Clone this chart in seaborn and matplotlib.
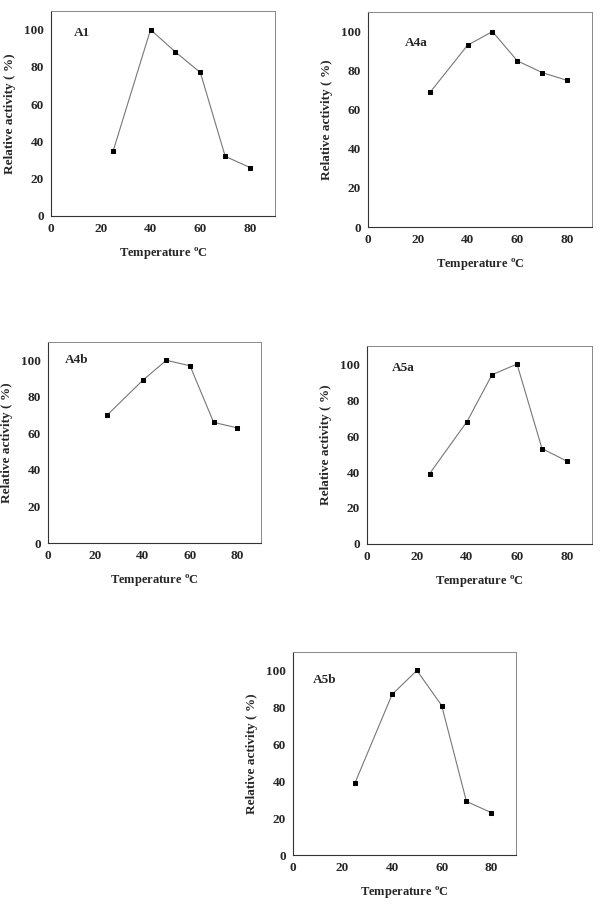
import numpy as np
import pandas as pd
import matplotlib
matplotlib.use("Agg")
import matplotlib.pyplot as plt
import seaborn as sns

temps = [25, 40, 50, 60, 70, 80]
a1 = [35, 100, 88, 77, 32, 26]
a4a = [69, 93, 100, 85, 79, 75]
a4b = [70, 89, 100, 97, 66, 63]
a5a = [39, 68, 94, 100, 53, 46]
a5b = [39, 87, 100, 81, 29, 23]
panel_names = ["A1", "A4a", "A4b", "A5a", "A5b"]
x_ticks = [0, 20, 40, 60, 80]
y_ticks = [0, 20, 40, 60, 80, 100]

sns.set_style("white")
plt.rcParams['font.family'] = ['Liberation Serif', 'DejaVu Serif']
plt.rcParams['font.weight'] = 'bold'

fig = plt.figure(figsize=(6, 9.05), dpi=100)

# axes boxes in pixels: left, top, right, bottom
boxes = [(51, 11, 275, 216), (368, 12, 592, 227), (48, 342, 261, 543),
         (367, 346, 592, 544), (293, 652, 516, 855)]
label_pos = [(9, 98), (15, 94), (7, 100), (10, 98), (8, 95)]
series = [a1, a4a, a4b, a5a, a5b]

for name, vals, (l, t, r, b), (lx, ly) in zip(panel_names, series, boxes, label_pos):
    ax = fig.add_axes([l / 600, 1 - b / 905, (r - l) / 600, (b - t) / 905])
    df = pd.DataFrame({'Temperature': temps, 'Activity': vals})
    sns.lineplot(data=df, x='Temperature', y='Activity', ax=ax, color='#777777',
                 linewidth=0.8, marker='s', markersize=3.3,
                 markerfacecolor='black', markeredgecolor='black')
    ax.set_xlim(0, 90)
    ax.set_ylim(0, 110)
    ax.set_xticks(x_ticks)
    ax.set_yticks(y_ticks)
    ax.tick_params(axis='both', labelsize=9.5, length=2.5, width=0.6,
                   direction='in', pad=5)
    for lab in ax.get_xticklabels() + ax.get_yticklabels():
        lab.set_fontweight('bold')
    ax.set_xlabel('Temperature $^{\\mathregular{o}}$C', fontsize=9,
                  fontweight='bold', labelpad=8)
    ax.set_ylabel('Relative activity ( %)', fontsize=9.5, fontweight='bold',
                  labelpad=6)
    ax.text(lx, ly, name, fontsize=9.5, fontweight='bold', va='center', ha='left')
    for side in ['left', 'bottom']:
        ax.spines[side].set_color('#333333')
        ax.spines[side].set_linewidth(0.8)
    for side in ['top', 'right']:
        ax.spines[side].set_color('#888888')
        ax.spines[side].set_linewidth(0.7)

fig.savefig('out.png', dpi=100)
